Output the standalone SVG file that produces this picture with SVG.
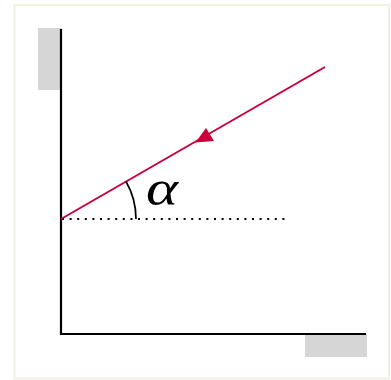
<svg xmlns="http://www.w3.org/2000/svg" width="391" height="380" viewBox="0 0 391 380">
<style>
.axis{fill:none;stroke:#000;stroke-width:2.2}
.ray{fill:none;stroke:#c8003c;stroke-width:2}
.dot{fill:none;stroke:#000;stroke-width:2;stroke-dasharray:2 5.6}
.arc{fill:none;stroke:#000;stroke-width:1.7}
.pad{fill:#d6d6d6}
.lbl{font-family:"Liberation Serif",serif;font-style:italic;font-size:50px;fill:#000}
</style>
<rect x="0" y="0" width="391" height="380" fill="#fff"/>
<rect x="14.5" y="5" width="374.5" height="373.5" fill="#fff" stroke="#f0f0e2" stroke-width="2"/>
<g id="y-label"><rect class="pad" x="38" y="28" width="24" height="62"/></g>
<g id="x-label"><rect class="pad" x="305" y="334" width="62" height="23"/></g>
<g id="connectors">
<path class="axis" d="M61 29 V334 H366"/>
<path class="dot" d="M62 219 H290"/>
<path class="ray" d="M325 67 L61 219"/>
<polygon fill="#c8003c" points="195.5,142.5 206,128 214,141"/>
<path class="arc" d="M126 181.5 A75 75 0 0 1 136 219"/>
</g>
<g id="angle"><text class="lbl" x="146" y="205" textLength="32" lengthAdjust="spacingAndGlyphs">α</text></g>
</svg>
